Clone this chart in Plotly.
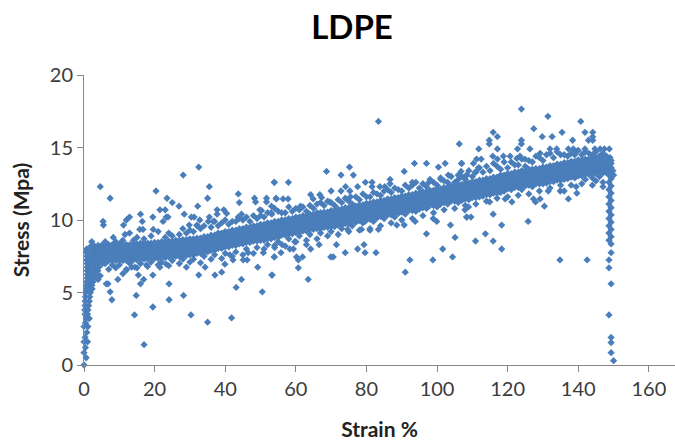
import plotly.graph_objects as go

# Main band: even and odd strain columns with stress rows for each
band_strain_even = [2,4,6,8,10,12,14,16,18,20,
    22,24,26,28,30,32,34,36,38,40,
    42,44,46,48,50,52,54,56,58,60,
    62,64,66,68,70,72,74,76,78,80,
    82,84,86,88,90,92,94,96,98,100,
    102,104,106,108,110,112,114,116,118,120,
    122,124,126,128,130,132,134,136,138,140,
    142,144,146,148]
band_strain_odd = [3,5,7,9,11,13,15,17,19,21,
    23,25,27,29,31,33,35,37,39,41,
    43,45,47,49,51,53,55,57,59,61,
    63,65,67,69,71,73,75,77,79,81,
    83,85,87,89,91,93,95,97,99,101,
    103,105,107,109,111,113,115,117,119,121,
    123,125,127,129,131,133,135,137,139,141,
    143,145,147,149]
band_cap = [8.2,8.25,8.3,8.3,8.3,8.3,8.35,8.4,8.4,8.45,
    8.5,8.55,8.6,8.65,8.7,8.75,8.85,8.95,9.1,9.2,
    9.3,9.4,9.5,9.6,9.7,9.8,9.9,10,10.1,10.2,
    10.3,10.4,10.5,10.55,10.65,10.75,10.85,10.95,11.05,11.15,
    11.25,11.35,11.45,11.55,11.65,11.75,11.85,11.95,12.05,12.15,
    12.25,12.35,12.45,12.55,12.65,12.75,12.85,12.95,13.1,13.2,
    13.3,13.4,13.5,13.55,13.65,13.75,13.85,13.95,14.05,14.15,
    14.2,14.3,14.3,14.3]
band_top = [7.95,8.05,8.05,8.05,8.05,8.05,8.1,8.15,8.2,8.2,
    8.25,8.3,8.35,8.4,8.45,8.55,8.65,8.75,8.9,9.0,
    9.1,9.2,9.3,9.4,9.45,9.55,9.65,9.8,9.9,10.0,
    10.1,10.2,10.25,10.35,10.4,10.5,10.6,10.7,10.8,10.9,
    11.0,11.1,11.2,11.3,11.4,11.5,11.6,11.7,11.85,11.95,
    12.05,12.15,12.2,12.3,12.4,12.5,12.6,12.7,12.85,13.0,
    13.1,13.2,13.25,13.35,13.4,13.5,13.6,13.7,13.8,13.9,
    14.0,14.05,14.1,14.1]
band_upper = [7.75,7.8,7.85,7.85,7.85,7.85,7.9,7.95,7.95,8.0,
    8.05,8.1,8.15,8.2,8.25,8.3,8.4,8.5,8.65,8.75,
    8.85,8.95,9.05,9.15,9.25,9.35,9.45,9.55,9.65,9.75,
    9.85,9.95,10.05,10.1,10.2,10.3,10.4,10.5,10.6,10.7,
    10.8,10.9,11.0,11.1,11.2,11.3,11.4,11.5,11.6,11.7,
    11.8,11.9,12.0,12.1,12.2,12.3,12.4,12.5,12.65,12.75,
    12.85,12.95,13.05,13.1,13.2,13.3,13.4,13.5,13.6,13.7,
    13.75,13.85,13.9,13.9]
band_lower = [7.5,7.6,7.6,7.6,7.6,7.6,7.65,7.7,7.75,7.75,
    7.8,7.85,7.9,7.95,8.0,8.1,8.2,8.3,8.45,8.55,
    8.65,8.75,8.85,8.95,9.0,9.1,9.2,9.35,9.45,9.55,
    9.65,9.75,9.8,9.9,9.95,10.05,10.15,10.25,10.35,10.45,
    10.55,10.65,10.75,10.85,10.95,11.05,11.15,11.25,11.4,11.5,
    11.6,11.7,11.75,11.85,11.95,12.05,12.15,12.25,12.4,12.55,
    12.65,12.75,12.8,12.9,12.95,13.05,13.15,13.25,13.35,13.45,
    13.55,13.6,13.65,13.65]
band_bottom = [7.3,7.35,7.4,7.4,7.4,7.4,7.45,7.5,7.5,7.55,
    7.6,7.65,7.7,7.75,7.8,7.85,7.95,8.05,8.2,8.3,
    8.4,8.5,8.6,8.7,8.8,8.9,9.0,9.1,9.2,9.3,
    9.4,9.5,9.6,9.65,9.75,9.85,9.95,10.05,10.15,10.25,
    10.35,10.45,10.55,10.65,10.75,10.85,10.95,11.05,11.15,11.25,
    11.35,11.45,11.55,11.65,11.75,11.85,11.95,12.05,12.2,12.3,
    12.4,12.5,12.6,12.65,12.75,12.85,12.95,13.05,13.15,13.25,
    13.3,13.4,13.45,13.45]
band_base = [7.2,7.2,7.2,7.2,7.2,7.2,7.25,7.3,7.35,7.35,
    7.4,7.45,7.5,7.55,7.6,7.7,7.8,7.9,8.05,8.15,
    8.25,8.35,8.45,8.55,8.6,8.7,8.8,8.95,9.05,9.15,
    9.25,9.35,9.4,9.5,9.55,9.65,9.75,9.85,9.95,10.05,
    10.15,10.25,10.35,10.45,10.55,10.65,10.75,10.85,11,11.1,
    11.2,11.3,11.35,11.45,11.55,11.65,11.75,11.85,12,12.15,
    12.25,12.35,12.4,12.5,12.55,12.65,12.75,12.85,12.95,13.05,
    13.15,13.2,13.25,13.25]

# Points along the band's edges
fringe_upper_strain = [9,14,17,19,23,25,27,29,31,33,36,38,39,41,43,45,47,49,51,53,55,57,59,61,63,65,68,71,73,76,78,81,84,87,90,92,95,97,100,103,105,108,110,113,115,118,120,123,125,127,130,133,135,137,139,141,144,146,148,136,143]
fringe_upper_stress = [8.5,8.6,8.7,8.9,8.8,8.9,9.0,9.1,9.2,9.4,9.5,9.6,9.8,9.7,9.9,10,9.9,10.1,10.2,10.5,10.6,10.5,10.6,10.7,10.6,10.8,11,11,11.2,11.1,11.4,11.6,11.7,11.9,12,12.2,12.2,12.3,12.4,12.6,12.6,12.8,13,13.3,13.4,13.5,13.6,13.8,13.7,14,14.1,14.3,14.5,14.4,14.5,14.5,14.5,14.4,14.4,14.5,14.6]
fringe_lower_strain = [4,6,8,10,13,16,19,22,25,28,31,34,37,40,43,46,49,52,55,58,61,64,67,70,73,76,79,82,85,88,91,94,97,100,103,106,109,112,115,118,121,124,127,130,133,136,139,142,145,147,146,144]
fringe_lower_stress = [7,7,6.9,6.9,7,7,7.1,7.1,7.2,7.3,7.3,7.5,7.6,7.7,7.8,8,8.1,8.3,8.5,8.7,8.9,9,9.1,9.2,9.4,9.6,9.8,9.9,10.1,10.2,10.4,10.6,10.8,10.9,11.1,11.2,11.4,11.6,11.8,11.9,12.1,12.1,12.3,12.5,12.7,12.8,12.9,12.8,12.7,12.6,13,12.9]
outer_upper_strain = [6,11,15,21,24,28,30,32,34,37,40,42,44,46,48,50,52,54,56,58,60,62,64,66,67,69,70,72,74,75,77,79,80,82,83,85,86,88,89,91,93,94,96,98,99,101,102,104,106,107,109,111,112,114,116,117,119,121,122,124,126,128,129,131,132,134,138,140,142,145,147]
outer_upper_stress = [8.5,8.6,8.8,9.2,9.1,9.4,9.3,9.6,9.6,9.9,10,9.9,10.1,10.2,10.3,10.3,10.5,10.8,10.5,10.9,10.8,10.9,11,11.1,11.2,11.3,11.2,11.4,11.5,11.3,11.6,11.8,11.6,11.9,11.8,12,12.1,12.2,12.1,12.4,12.4,12.6,12.5,12.8,12.6,12.9,12.7,13,13.1,13,13.4,13.3,13.6,13.7,13.9,13.7,14,14,13.8,14.2,14.1,14.4,14.3,14.5,14.6,14.7,14.6,14.8,14.7,14.7,14.6]
outer_lower_strain = [7,9,12,15,18,21,24,27,30,33,36,39,42,45,48,51,54,57,60,63,66,69,72,75,78,81,84,87,90,93,96,99,102,105,108,111,114,117,120,123,126,129,132,135,138,141,144,147]
outer_lower_stress = [6.6,6.7,6.6,6.7,6.8,6.9,6.85,7,7.1,7.05,7.3,7.35,7.5,7.6,7.7,8,8.1,8.2,8.5,8.6,8.7,8.9,9,9.2,9.3,9.4,9.6,9.8,10,10.1,10.3,10.5,10.7,10.8,11,11.1,11.3,11.5,11.6,11.7,11.8,12,12.2,12.4,12.4,12.5,12.4,12.3]

# Scattered points above the band
above_strain = [4.6,7.4,5.4,5.5,2.2,20.4,28.1,32.5,35.5,35,53.9,54.4,43.7,44,23.5,25,26.9,32.2,48.3,48.6,51.7,51.7,16,12.9,12,11.2,19.5,16.5,21.5,23,23.8,23.3,22.4,28.4,30.4,31.2,37.7,37.7,39.6,40.4,44.6,43.7,49.8,50.3,53.1,53.2,35.5,36.6,35.2,32.8,32,29.8,19.6,16.7,15.8,12.9,11.6,10.7,8.3,
    83.4,106.3,53.9,57.9,68.7,75.2,72.8,76.3,93.6,97,100.4,102.3,106.9,90.7,106.8,108.4,70,72.8,74.1,77.5,79.7,81.6,81.6,86.7,86.7,83.8,85.2,93,97.7,101.1,103.2,106,54.5,56.4,57.8,64.2,66.8,67.3,64.9,75.3,75.5,61.3,69.5,
    123.9,131.4,140.7,127.4,129.8,132.6,135.4,141.9,144.1,144.1,144.1,142.9,138.4,115.9,117.1,114.8,114.8,123.9,123.9,111.8,117.1,122.8,126.3,132,133.9,137.2,138.6,139.6,141.9,144.7,146.2,147.4,148.8,129.2,115.8,117.1,118.8,120.7,122.6,123.5,124.9,111.2,112.5,110.3,107,108.4,110.8,111.7]
above_stress = [12.3,11.5,9.9,9.65,8.5,12,13.1,13.65,12.3,11.5,12.6,11.5,11.8,11.2,11.5,11.2,10.95,10.95,11.5,11.25,11.5,11.25,10.4,10.2,10,9.65,10.2,9.9,10.7,10.7,10.2,10.2,9.9,10.4,10.2,10.2,10.7,10.4,10.7,10.45,10.4,10.2,10.7,10.65,10.95,10.4,10.2,9.9,9.9,10,9.65,9.65,9.35,9.35,9.35,9.1,9,8.5,8.8,
    16.8,15.25,12.6,12.6,13.35,13.65,13.1,13.1,13.9,13.9,13.65,13.9,13.9,13.35,13.35,13.1,12,12,12.3,12.3,12.6,12.6,12.3,12.8,12.5,12.3,12.3,12.6,12.6,12.8,13.1,12.8,11.45,11.45,11.45,11.75,11.75,11.55,11.45,12,11.6,10.95,11.25,
    17.65,17.15,16.8,16.3,15.75,15.75,16.05,16.05,16.05,15.75,15.5,15.5,15.5,16.05,15.75,15.5,15.25,15.5,15.25,14.9,14.9,14.9,14.9,14.9,14.9,14.9,14.9,14.75,14.9,14.9,14.9,14.9,14.9,14.6,14.4,14.2,14.4,14.4,14.25,14.4,14.2,14.2,14.2,13.9,13.9,13.1,13.3,13.6]

# Scattered points below the band
below_strain = [4.6,4,6.3,6.8,7.4,7.9,9.6,11,12,13.5,15.4,16.9,16,14.8,14.3,17,19.5,19.5,24.1,24.1,28.2,30.3,35,41.8,32.5,29,34.3,37.1,39,39.9,43.1,44.6,50.5,49.2,53.3,46.2,45.1,46.5,42.2,41.3,50.8,53.9,17.7,21.5,23.3,14.4,
    53.2,63.5,60.7,60.2,61.9,60.7,53.9,55.8,54,56.1,58.3,59.3,59.7,64.2,63,66.6,71.5,69.9,70.6,74,77.5,79.3,79.6,82.7,74.7,78.6,81,83.4,79.6,88.6,90.7,93.8,97,103.8,98.9,99.9,105.1,101.6,104.4,98.8,92.3,91,108.4,
    134.8,142.5,125.8,118.3,115.9,113.7,110.9,115.9,118.3,108.4,109.6,107.9,108.9,114.9,119.3,121.2,127.9,129.2,127.3,130.4,131.5,137.2,139.6,139.4,136,134.9]
below_stress = [6.15,5.9,5.6,5.6,5.05,4.5,5.9,6.3,6.55,6.75,6.2,5.9,5.6,4.8,3.45,1.4,4,6.2,5.6,4.5,4.8,3.45,2.95,3.25,6.2,6.75,6.75,6.2,6.4,6.95,5.35,5.9,5.05,6.75,6.2,7.25,7.25,7.75,7.25,7.6,7.75,7.45,6.9,6.75,6.95,6.75,
    6.2,5.9,6.7,7.45,7.45,7.25,7.45,7.75,8.25,8.3,8,8,8.5,8,8.3,8.3,8.3,7.45,7.45,7.75,8,8.3,7.75,7.75,9.35,9.35,9.3,9.35,9.9,9.65,9.65,9.9,9.05,9.65,10.1,9.9,8.8,8,7.45,7.25,7.25,6.4,10.2,
    7.25,7.25,9.9,9.65,10.4,9.05,8.55,8.55,8,10.2,10.2,10.7,10.9,11.25,11.45,11.25,11.25,11.45,11.45,10.95,12,11.45,11.85,12.3,12,12]

# Steep rise at the start of the test
rise_strain = [0,.6,0,.4,0,1,.3,.8,0,1.1,.4,1.5,.6,.3,1,.2,1.1,.3,1.3,.3,1.5,.4,1.6,.5,1.8,.6,1.5,2.3,.7,1.4,2.2,.8,1.6,2.6,.9,1.7,2.6,.9,1.8,2.8,3.4,.9,1.9,3,3.9,.9,1.9,3.1,4.2,.9,1.9,3,4.2,5.2,.8,1.9,3,.8,1.9,3,.6,1.7,.8,1.8]
rise_stress = [0,.5,.85,1.2,1.6,1.6,1.9,2.25,2.65,2.65,2.9,3.2,3.2,3.5,3.5,3.8,3.8,4.1,4.1,4.4,4.4,4.7,4.7,5,5,5.25,5.25,5.25,5.5,5.5,5.5,5.75,5.75,5.75,6,6,6,6.25,6.25,6.25,6.25,6.5,6.5,6.5,6.5,6.75,6.75,6.75,6.75,7,7,7,7,7,7.25,7.25,7.25,7.5,7.5,7.5,7.8,7.8,8,8]

# Sudden drop at the end of the test
drop_strain = [150,149.3,149.3,149.3,148.7,149.3,148.7,148.7,149.3,149.3,148.7,149.3,148.7,149.3,148.7,149.3,148.7,149.3,148.7,149.3,148.7,149.3,148.7,149.3,148.7,149.3,148.7,149.3,148.7,149.3,148.7,149.3,148.7,149.3,149.8,150,149.3]
drop_stress = [0.3,0.85,1.55,1.9,3.45,5.6,6.7,7.25,7.75,8.35,8.6,8.85,9.1,9.35,9.6,9.85,10.1,10.35,10.6,10.85,11.1,11.35,11.6,11.85,12.1,12.35,12.6,12.85,13.1,13.3,13.5,13.6,13.8,13.9,13.4,13.1,14.1]

x_ticks = [0, 20, 40, 60, 80, 100, 120, 140, 160]
y_ticks = [0, 5, 10, 15, 20]
title_text = "LDPE"
x_title = "Strain %"
y_title = "Stress (Mpa)"

groups = [
    (band_strain_odd, band_cap), (band_strain_even, band_cap),
    (band_strain_even, band_top), (band_strain_odd, band_top),
    (band_strain_odd, band_upper), (band_strain_even, band_upper),
    (band_strain_even, band_lower), (band_strain_odd, band_lower),
    (band_strain_odd, band_bottom), (band_strain_even, band_bottom),
    (band_strain_even, band_base), (band_strain_odd, band_base),
    (fringe_upper_strain, fringe_upper_stress), (fringe_lower_strain, fringe_lower_stress),
    (outer_upper_strain, outer_upper_stress), (outer_lower_strain, outer_lower_stress),
    (above_strain, above_stress), (below_strain, below_stress),
    (rise_strain, rise_stress), (drop_strain, drop_stress),
]
strain, stress = [], []
for xs, ys in groups:
    n = min(len(xs), len(ys))
    strain += xs[:n]
    stress += ys[:n]

FONT = "Lato, Carlito, sans-serif"
AXIS = "#868686"
TEXT = "#3c3c3c"

fig = go.Figure(go.Scatter(
    x=strain, y=stress, mode="markers", cliponaxis=False,
    marker=dict(symbol="diamond", size=5.6, color="#4a7ebb", line=dict(width=0)),
))
axis_common = dict(showgrid=False, zeroline=False, showline=True, linecolor=AXIS, linewidth=1,
                   ticks="outside", tickcolor=AXIS, ticklen=6, tickwidth=1,
                   tickfont=dict(family=FONT, size=20, color=TEXT))
fig.update_layout(
    width=675, height=441, paper_bgcolor="white", plot_bgcolor="white", showlegend=False,
    margin=dict(l=84, r=0, t=75, b=76),
    font=dict(family=FONT),
    title=dict(text=title_text, x=352/675, xanchor="center", y=1-27/441, yanchor="middle",
               font=dict(family=FONT, size=33, color="#000000", weight="bold")),
    xaxis=dict(range=[0, 167.4], tickvals=x_ticks, **axis_common,
               title=dict(text=x_title, standoff=23, font=dict(family=FONT, size=21, color="#222222", weight="bold"))),
    yaxis=dict(range=[0, 20], tickvals=y_ticks, **axis_common,
               title=dict(text=y_title, standoff=14, font=dict(family=FONT, size=21, color="#222222", weight="bold"))),
)
fig.write_html("out.html", config=dict(displayModeBar=False),
               post_script="document.body.style.margin='0';")
